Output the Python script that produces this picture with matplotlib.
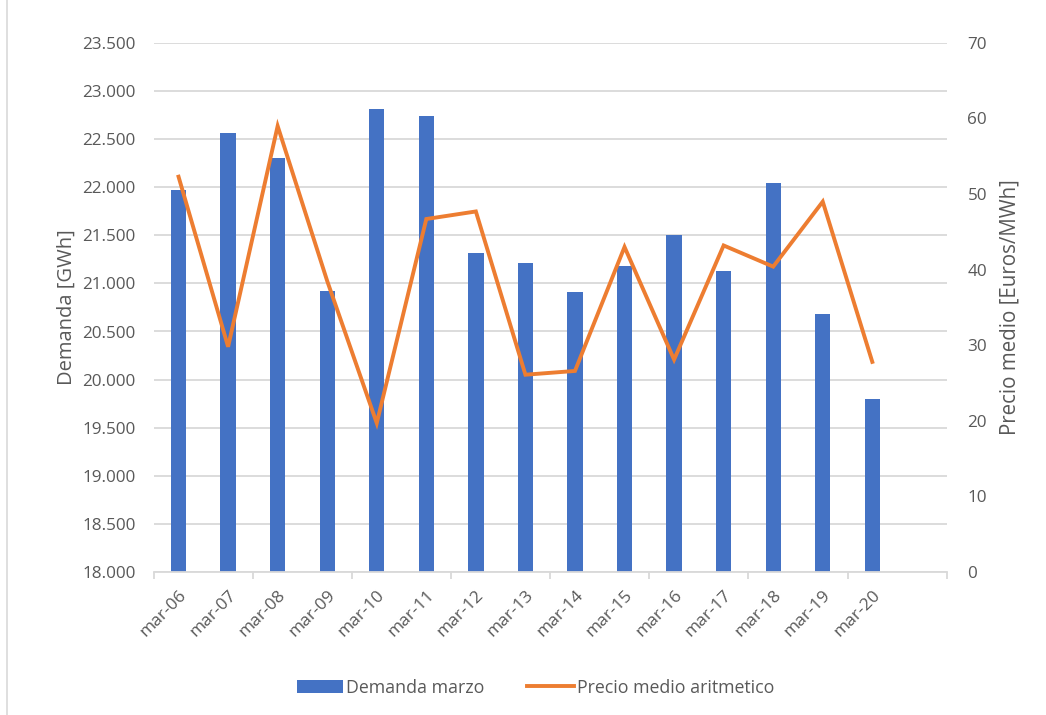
import matplotlib
matplotlib.use("Agg")
import matplotlib.pyplot as plt
import numpy as np
from matplotlib.ticker import FuncFormatter, FixedLocator
from matplotlib.lines import Line2D
from matplotlib.patches import Patch

categories = ["mar-06", "mar-07", "mar-08", "mar-09", "mar-10", "mar-11", "mar-12",
              "mar-13", "mar-14", "mar-15", "mar-16", "mar-17", "mar-18", "mar-19", "mar-20"]
demanda = [21970, 22560, 22305, 20925, 22814, 22741, 21320, 21212, 20908, 21176,
           21504, 21130, 22048, 20682, 19800]
precio = [52.3, 29.8, 59.0, 38.5, 19.7, 46.7, 47.7, 26.1, 26.6, 43.0, 28.1, 43.2,
          40.4, 49.0, 27.8]

BLUE = "#4472C4"
ORANGE = "#ED7D31"
GRID = "#D9D9D9"
TXT = "#595959"

plt.rcParams['font.family'] = ['Open Sans', 'DejaVu Sans']

fig = plt.figure(figsize=(10.46, 7.15), dpi=100)
ax = fig.add_axes([0.147, 0.2, 0.758, 0.74])
ax2 = ax.twinx()

x = np.arange(len(categories))
ax.bar(x, demanda, width=0.31, color=BLUE, zorder=2)
ax2.plot(x, precio, color=ORANGE, lw=2.8, solid_joinstyle='miter', zorder=3)

ax.set_xlim(-0.5, len(categories) + 0.5)
ax.set_ylim(18000, 23500)
ax.set_yticks(np.arange(18000, 23501, 500))
ax.yaxis.set_major_formatter(FuncFormatter(lambda v, p: f"{v:,.0f}".replace(",", ".")))
ax2.set_ylim(0, 70)
ax2.set_yticks(np.arange(0, 71, 10))

ax.grid(axis='y', color=GRID, lw=1.3, zorder=0)
ax.set_axisbelow(True)

for a in (ax, ax2):
    for s in a.spines.values():
        s.set_visible(False)
ax.spines['bottom'].set_visible(True)
ax.spines['bottom'].set_color(GRID)
ax.spines['bottom'].set_linewidth(1.3)

ax.set_xticks(x)
ax.set_xticklabels(categories, rotation=45, ha='right', rotation_mode='anchor',
                   fontsize=12.5, color=TXT)
ax.tick_params(axis='x', which='major', length=0, pad=11)
ax.xaxis.set_minor_locator(FixedLocator(np.arange(-0.5, len(categories) + 1, 2)))
ax.tick_params(axis='x', which='minor', length=5, color=GRID, width=1.3)

ax.tick_params(axis='y', length=0, pad=13, labelsize=12.3, labelcolor=TXT)
ax2.tick_params(axis='y', length=0, pad=15, labelsize=12.3, labelcolor=TXT)

ax.set_ylabel("Demanda [GWh]", fontsize=14.5, color=TXT, labelpad=4)
ax2.set_ylabel("Precio medio [Euros/MWh]", fontsize=14.8, color=TXT, labelpad=9)

handles = [Patch(facecolor=BLUE, edgecolor='none'),
           Line2D([0], [0], color=ORANGE, lw=2.8)]
fig.legend(handles, ["Demanda marzo", "Precio medio aritmetico"], loc='center',
           bbox_to_anchor=(0.512, 0.038), ncol=2, frameon=False, fontsize=12.8,
           labelcolor=TXT, handlelength=2.6, handleheight=0.8, columnspacing=2.4,
           handletextpad=0.2)

fig.add_artist(Line2D([0.007, 0.007], [0.0, 1.0], color=GRID, lw=1.2,
                      transform=fig.transFigure))

fig.savefig("out.png", dpi=100)
